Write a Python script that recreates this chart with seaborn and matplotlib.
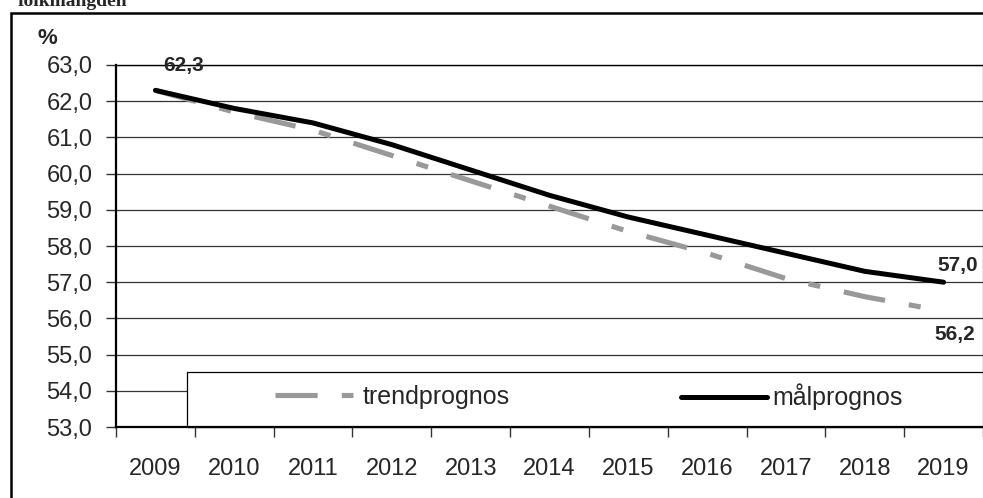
import numpy as np
import pandas as pd
import seaborn as sns
import matplotlib.pyplot as plt
from matplotlib.lines import Line2D
from matplotlib.patches import Rectangle

years = ["2009", "2010", "2011", "2012", "2013", "2014", "2015", "2016", "2017", "2018", "2019"]
trend = [62.3, 61.7, 61.2, 60.5, 59.8, 59.1, 58.4, 57.8, 57.1, 56.6, 56.2]
mal = [62.3, 61.8, 61.4, 60.8, 60.1, 59.4, 58.8, 58.3, 57.8, 57.3, 57.0]
yticks = [53, 54, 55, 56, 57, 58, 59, 60, 61, 62, 63]
ytick_labels = [f"{v:.1f}".replace(".", ",") for v in yticks]

df = pd.DataFrame({"year": years, "trendprognos": trend, "målprognos": mal})

sns.set_style("white")
plt.rcParams["font.family"] = ["Liberation Sans", "DejaVu Sans"]

fig = plt.figure(figsize=(9.83, 4.98), dpi=100)
ax = fig.add_axes([116 / 983, 1 - 427 / 498, 867 / 983, 362 / 498])

gray = "#999999"
dash = (8.2, 4.7, 2.35, 4.7)
sns.lineplot(data=df, x="year", y="trendprognos", ax=ax, color=gray, lw=3.7, sort=False)
ax.lines[-1].set_dashes(dash)
ax.lines[-1].set_dash_capstyle("butt")
sns.lineplot(data=df, x="year", y="målprognos", ax=ax, color="black", lw=3.6, sort=False)

ax.set_xlim(-0.5, len(years) - 0.5)
ax.set_ylim(53, 63)
ax.set_yticks(yticks)
ax.set_yticklabels(ytick_labels, fontsize=17)
ax.yaxis.grid(True, color="#333333", lw=0.9)
ax.set_axisbelow(True)
ax.tick_params(axis="y", left=True, length=7, width=1, color="#333333", pad=10)

ax.set_xticks(range(len(years)))
ax.set_xticklabels(years, fontsize=17)
ax.set_xticks(np.arange(-0.5, len(years)), minor=True)
ax.tick_params(axis="x", which="major", length=0, pad=22)
ax.tick_params(axis="x", which="minor", bottom=True, length=7, width=1, color="#333333")
ax.set_xlabel("")
ax.set_ylabel("")

for s in ["left", "bottom", "top"]:
    ax.spines[s].set_color("black")
ax.spines["left"].set_linewidth(1.6)
ax.spines["bottom"].set_linewidth(1.6)
ax.spines["top"].set_linewidth(1.0)
ax.spines["right"].set_color("#333333")
ax.spines["right"].set_linewidth(0.9)


def fmt(v):
    return f"{v:.1f}".replace(".", ",")


ax.annotate(fmt(mal[0]), (0, mal[0]), xytext=(20, 18), textcoords="offset points",
            fontsize=15, fontweight="bold", ha="center", va="center")
ax.annotate(fmt(mal[-1]), (len(years) - 1, mal[-1]), xytext=(25, 12), textcoords="offset points",
            fontsize=15, fontweight="bold", ha="right", va="center")
ax.annotate(fmt(trend[-1]), (len(years) - 1, trend[-1]), xytext=(23, -17), textcoords="offset points",
            fontsize=15, fontweight="bold", ha="right", va="center")

fig.text(47 / 983, 1 - 38 / 498, "%", fontsize=16, fontweight="bold", ha="center", va="center")

# legend box
ax.add_patch(Rectangle(((187 - 116) / 867, 0), 1.0, 55 / 362, transform=ax.transAxes,
                       facecolor="white", edgecolor="black", lw=0.9, zorder=2.3, clip_on=False))

h1 = [Line2D([], [], color=gray, lw=3.7, dashes=dash, dash_capstyle="butt")]
h2 = [Line2D([], [], color="black", lw=3.6)]
yc = (427 - 397) / 362
leg1 = ax.legend(h1, ["trendprognos"], loc="center left", bbox_to_anchor=((275 - 116) / 867, yc),
                 frameon=False, fontsize=18, handlelength=3.12, handletextpad=0.4,
                 borderpad=0, borderaxespad=0)
ax.add_artist(leg1)
leg2 = ax.legend(h2, ["målprognos"], loc="center left", bbox_to_anchor=((681 - 116) / 867, yc),
                 frameon=False, fontsize=18, handlelength=3.44, handletextpad=0.2,
                 borderpad=0, borderaxespad=0)
leg1.set_zorder(3)
leg2.set_zorder(3)

fig.patches.append(Rectangle((11 / 983, -0.1), 1.0, 1.1 - 13.5 / 498, transform=fig.transFigure,
                             fill=False, edgecolor="black", lw=1.8, clip_on=False))
fig.text(18 / 983, 1 - 6 / 498, "folkmängden", fontsize=14, fontweight="bold",
         family="Liberation Serif", ha="left", va="baseline")

fig.savefig("out.png", dpi=100)
